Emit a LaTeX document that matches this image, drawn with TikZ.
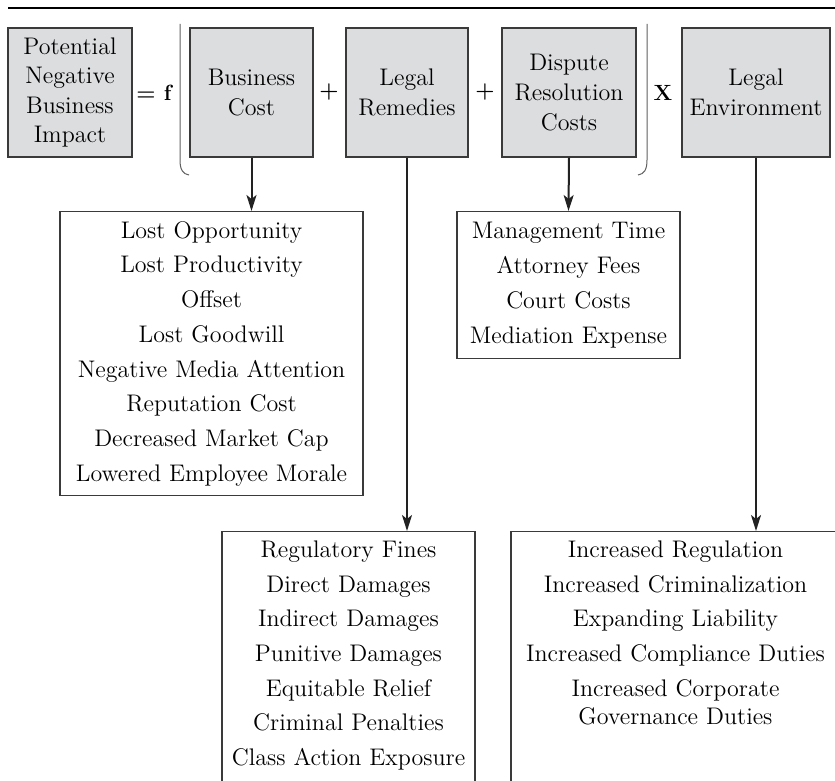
\documentclass[tikz,border=0pt]{standalone}
\usetikzlibrary{arrows.meta,positioning}
\definecolor{hdrgray}{RGB}{220,221,223}
\definecolor{framegray}{RGB}{58,58,58}
\definecolor{arrowgray}{RGB}{34,34,34}
\definecolor{parengray}{RGB}{95,95,95}
\tikzstyle{arrow} = [line width=1pt,-{Stealth[length=8pt,width=5pt,inset=2pt]},color=arrowgray]
\tikzstyle{factor} = [rectangle, draw=framegray, fill=hdrgray, line width=0.65pt, minimum height=64.5pt, inner sep=0pt, align=center, font=\fontsize{12}{14.8}\selectfont]
\tikzstyle{listbox} = [rectangle, draw=framegray, line width=0.65pt, anchor=north, inner xsep=0pt, inner ysep=4.5pt, align=center, font=\fontsize{12}{17.35}\selectfont]
\tikzstyle{operator} = [font=\fontsize{11}{13}\selectfont\bfseries]
\tikzstyle{paren} = [line width=0.5pt, color=parengray]
\newcommand{\runoff}{\rule[-40pt]{0pt}{0pt}}

\begin{document}
\begin{tikzpicture}[x=0.5pt, y=-0.5pt]
\clip (0,0) rectangle (835,781);
% Rule above the equation
\draw[line width=0.75pt] (8,8) -- (835,8);

% Factors of the equation
\node (impact) [factor, minimum width=62pt] at (70,92.5) {Potential\\Negative\\Business\\Impact};
\node (bizcost) [factor, right of=impact, node distance=90.75pt, minimum width=61.5pt] {Business\\Cost};
\node (remedies) [factor, right of=bizcost, node distance=77.75pt, minimum width=61pt] {Legal\\Remedies};
\node (dispute) [factor, right of=remedies, node distance=81pt, minimum width=67pt] {Dispute\\Resolution\\Costs};
\node (legalenv) [factor, right of=dispute, node distance=93.5pt, minimum width=74pt] {Legal\\Environment};

% Operators
\node (eqf) [operator, right of=impact, node distance=42pt] {= f};
\node (plusa) [operator, right of=bizcost, node distance=38.75pt] {+};
\node (plusb) [operator, right of=remedies, node distance=39pt] {+};
\node (times) [operator, right of=dispute, node distance=47pt] {X};

% Parentheses
\draw[paren] (180,24) -- (180,160) .. controls (180,170) and (183,174) .. (189,175);
\draw[paren] (647,24) -- (647,160) .. controls (647,170) and (644,174) .. (638,175);

% Lists under the factors
\node (bizlist) [listbox, text width=151.5pt, minimum height=142pt] at (211.5,211) {Lost Opportunity\\Lost Productivity\\Offset\\Lost Goodwill\\Negative Media Attention\\Reputation Cost\\Decreased Market Cap\\Lowered Employee Morale};
\node (displist) [listbox, text width=111.5pt, minimum height=73.5pt] at (568.5,211) {Management Time\\Attorney Fees\\Court Costs\\Mediation Expense};
\node (remlist) [listbox, text width=126.5pt] at (348.5,531) {Regulatory Fines\\Direct Damages\\Indirect Damages\\Punitive Damages\\Equitable Relief\\Criminal Penalties\\Class Action Exposure\runoff};
\node (envlist) [listbox, text width=164.5pt] at (675.5,531) {Increased Regulation\\Increased Criminalization\\Expanding Liability\\Increased Compliance Duties\\Increased Corporate\\[-3.4pt]Governance Duties\runoff};

% Arrows
\draw[arrow] (bizcost.south) -- (bizcost.south |- bizlist.north);
\draw[arrow] (remedies.south) -- (remedies.south |- remlist.north);
\draw[arrow] (dispute.south) -- (displist.north);
\draw[arrow] (legalenv.south) -- (legalenv.south |- envlist.north);
\end{tikzpicture}
\end{document}
